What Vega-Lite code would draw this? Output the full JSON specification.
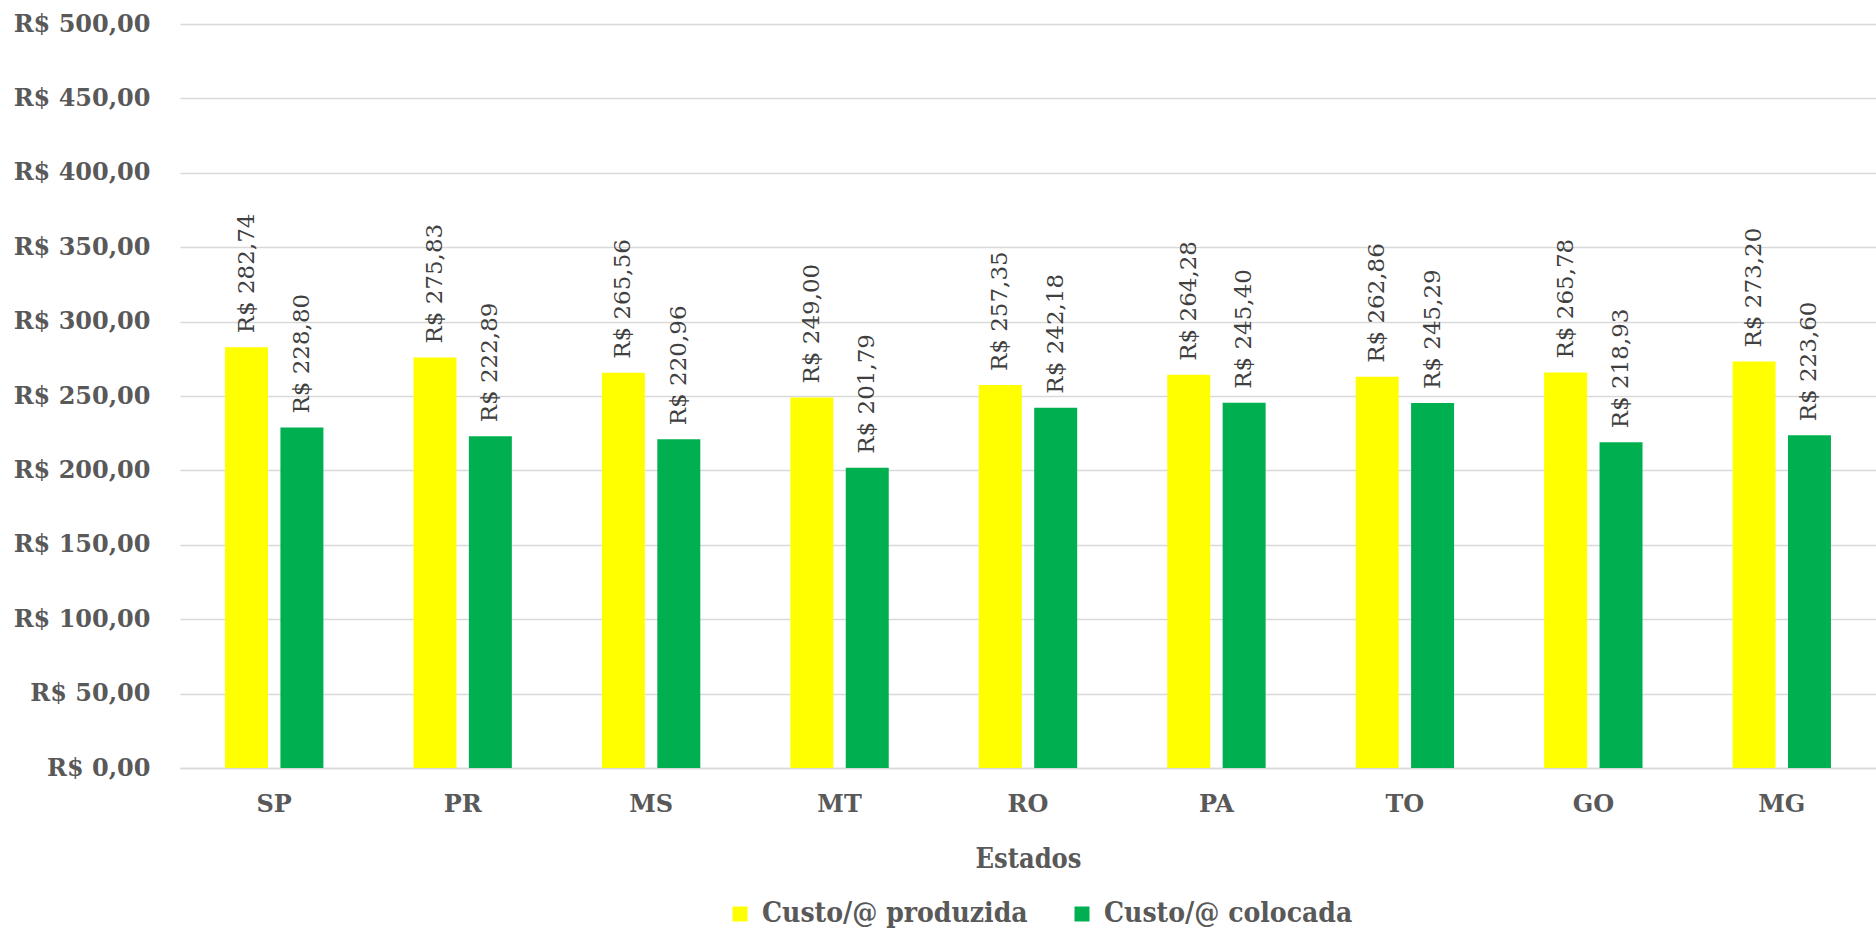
{
  "$schema": "https://vega.github.io/schema/vega-lite/v6.json",
  "width": 1696,
  "height": 744,
  "autosize": {"type": "none"},
  "padding": {"left": 180, "top": 24, "right": 0, "bottom": 160},
  "background": "white",
  "config": {
    "view": {"stroke": null},
    "locale": {
      "number": {"decimal": ",", "thousands": ".", "grouping": [3], "currency": ["R$ ", ""]}
    }
  },
  "data": {
    "values": [
      {"estado": "SP", "serie": "Custo/@ produzida", "valor": 282.74},
      {"estado": "SP", "serie": "Custo/@ colocada", "valor": 228.80},
      {"estado": "PR", "serie": "Custo/@ produzida", "valor": 275.83},
      {"estado": "PR", "serie": "Custo/@ colocada", "valor": 222.89},
      {"estado": "MS", "serie": "Custo/@ produzida", "valor": 265.56},
      {"estado": "MS", "serie": "Custo/@ colocada", "valor": 220.96},
      {"estado": "MT", "serie": "Custo/@ produzida", "valor": 249.00},
      {"estado": "MT", "serie": "Custo/@ colocada", "valor": 201.79},
      {"estado": "RO", "serie": "Custo/@ produzida", "valor": 257.35},
      {"estado": "RO", "serie": "Custo/@ colocada", "valor": 242.18},
      {"estado": "PA", "serie": "Custo/@ produzida", "valor": 264.28},
      {"estado": "PA", "serie": "Custo/@ colocada", "valor": 245.40},
      {"estado": "TO", "serie": "Custo/@ produzida", "valor": 262.86},
      {"estado": "TO", "serie": "Custo/@ colocada", "valor": 245.29},
      {"estado": "GO", "serie": "Custo/@ produzida", "valor": 265.78},
      {"estado": "GO", "serie": "Custo/@ colocada", "valor": 218.93},
      {"estado": "MG", "serie": "Custo/@ produzida", "valor": 273.20},
      {"estado": "MG", "serie": "Custo/@ colocada", "valor": 223.60}
    ]
  },
  "encoding": {
    "x": {
      "field": "estado",
      "type": "nominal",
      "sort": null,
      "scale": {"paddingInner": 0.478, "paddingOuter": 0.239},
      "axis": {
        "title": "Estados",
        "labelAngle": 0,
        "labelFont": "DejaVu Serif",
        "labelFontWeight": "bold",
        "labelFontSize": 24,
        "labelColor": "#595959",
        "labelPadding": 24,
        "ticks": false,
        "tickSize": 0,
        "domainColor": "#d9d9d9",
        "domainWidth": 1.5,
        "titleFont": "DejaVu Serif Condensed",
        "titleFontWeight": "bold",
        "titleFontSize": 27,
        "titleColor": "#595959",
        "titlePadding": 30
      }
    },
    "xOffset": {
      "field": "serie",
      "type": "nominal",
      "sort": ["Custo/@ produzida", "Custo/@ colocada"],
      "scale": {"paddingInner": 0.224, "paddingOuter": 0}
    },
    "y": {
      "field": "valor",
      "type": "quantitative",
      "scale": {"domain": [0, 500], "nice": false},
      "axis": {
        "title": null,
        "values": [0, 50, 100, 150, 200, 250, 300, 350, 400, 450, 500],
        "format": "$,.2f",
        "labelFont": "DejaVu Serif",
        "labelFontWeight": "bold",
        "labelFontSize": 24,
        "labelColor": "#595959",
        "labelPadding": 30,
        "ticks": false,
        "domain": false,
        "gridColor": "#d9d9d9",
        "gridWidth": 1.5
      }
    }
  },
  "layer": [
    {
      "mark": {"type": "bar"},
      "encoding": {
        "color": {
          "field": "serie",
          "type": "nominal",
          "sort": ["Custo/@ produzida", "Custo/@ colocada"],
          "scale": {"domain": ["Custo/@ produzida", "Custo/@ colocada"], "range": ["#FFFF00", "#00B050"]},
          "legend": {
            "title": null,
            "orient": "none",
            "legendX": 546,
            "legendY": 876,
            "direction": "horizontal",
            "symbolType": "square",
            "symbolSize": 225,
            "symbolStrokeWidth": 0,
            "labelOffset": 8,
            "labelFont": "DejaVu Serif Condensed",
            "labelFontWeight": "bold",
            "labelFontSize": 28,
            "labelColor": "#595959",
            "labelLimit": 400,
            "columnPadding": 40
          }
        }
      }
    },
    {
      "mark": {
        "type": "text",
        "angle": 270,
        "align": "left",
        "baseline": "middle",
        "dx": 14,
        "font": "DejaVu Serif",
        "fontSize": 23,
        "color": "#404040"
      },
      "encoding": {
        "text": {"field": "valor", "type": "quantitative", "format": "$,.2f"}
      }
    }
  ]
}
